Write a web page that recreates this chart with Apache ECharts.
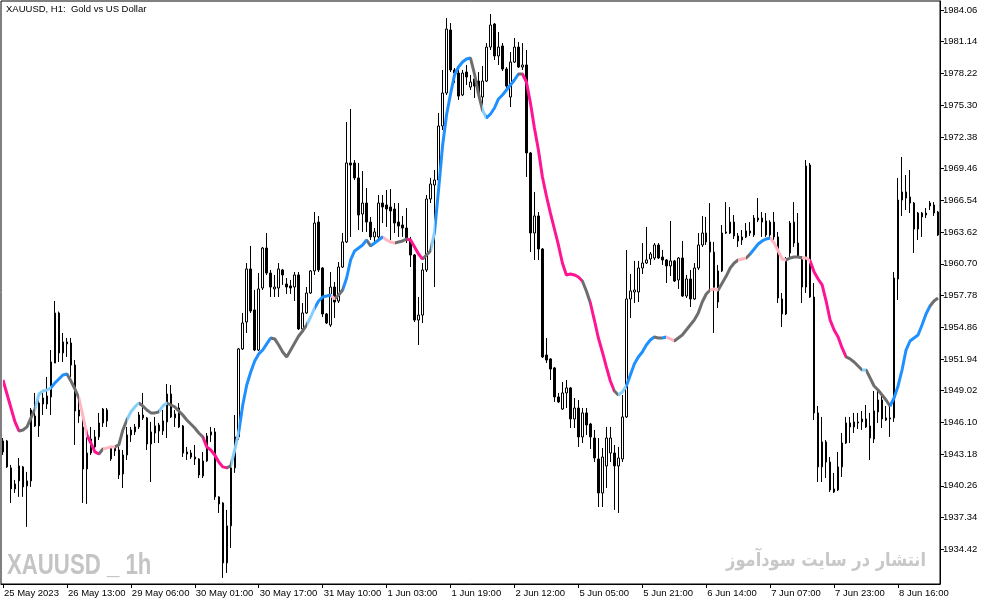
<!DOCTYPE html>
<html>
<head>
<meta charset="utf-8">
<script src="https://cdn.jsdelivr.net/npm/echarts@6/dist/echarts.min.js"></script>
<style>
html,body{margin:0;padding:0;background:#fff;}
#chart{width:994px;height:605px;}
</style>
</head>
<body>
<div id="chart"></div>
<script>
// XAUUSD H1 bars: [open, close, low, high]
const ohlc = [
[1944.39,1943.38,1943.10,1944.66],[1944.39,1942.00,1941.91,1944.48],[1941.91,1939.97,1938.68,1942.18],[1939.97,1940.43,1939.60,1940.80],[1940.71,1942.09,1939.24,1942.82],
[1942.00,1940.16,1939.24,1942.09],[1940.25,1940.71,1936.48,1941.54],[1940.71,1947.24,1940.16,1947.42],[1946.69,1945.77,1945.68,1948.81],[1945.77,1947.88,1944.76,1948.62],
[1948.34,1947.79,1946.78,1949.08],[1947.79,1948.53,1947.33,1950.28],[1948.44,1951.66,1946.78,1952.76],[1951.56,1956.17,1951.56,1957.27],[1956.17,1952.49,1951.66,1956.30],
[1952.49,1953.50,1951.66,1954.33],[1953.50,1953.32,1952.12,1953.87],[1953.41,1951.38,1950.28,1953.87],[1951.38,1947.15,1944.02,1951.84],[1947.24,1946.69,1946.05,1948.44],
[1945.68,1941.81,1938.68,1947.24],[1941.81,1943.28,1938.59,1945.58],[1943.28,1944.57,1943.10,1945.68],[1943.84,1944.76,1943.28,1945.40],[1944.76,1946.05,1944.48,1946.97],
[1946.05,1947.33,1945.68,1947.42],[1947.24,1946.23,1945.68,1947.42],[1942.73,1943.84,1942.55,1943.93],[1943.74,1943.47,1943.01,1943.93],[1943.56,1941.26,1940.89,1943.84],
[1941.35,1943.10,1940.06,1943.56],[1943.10,1944.94,1942.64,1945.68],[1944.94,1945.40,1944.30,1945.68],[1945.22,1945.68,1944.94,1945.95],[1945.68,1946.78,1945.49,1947.06],
[1946.78,1946.51,1946.32,1948.81],[1946.51,1944.11,1943.56,1946.60],[1944.11,1945.22,1940.61,1946.14],[1945.12,1945.77,1944.20,1946.60],[1945.86,1945.31,1944.20,1946.05],
[1945.31,1946.23,1944.94,1947.24],[1946.14,1948.71,1944.66,1949.63],[1948.71,1946.60,1946.50,1949.54],[1946.51,1946.87,1945.68,1947.24],[1947.42,1945.68,1945.58,1947.88],
[1945.77,1943.28,1942.91,1945.86],[1943.38,1943.19,1942.64,1943.84],[1943.28,1942.91,1942.73,1943.56],[1942.91,1942.73,1942.18,1944.02],[1942.73,1941.26,1940.98,1942.80],
[1941.17,1942.55,1940.98,1943.38],[1942.55,1944.85,1942.46,1945.12],[1944.94,1945.22,1944.30,1945.68],[1945.22,1939.24,1938.96,1945.58],[1939.24,1938.59,1937.76,1939.30],
[1938.68,1933.16,1931.78,1938.75],[1933.16,1936.57,1932.24,1938.04],[1936.57,1941.91,1934.54,1942.00],[1941.91,1944.76,1941.45,1946.78],[1944.76,1952.86,1944.48,1952.95],
[1952.86,1955.25,1952.76,1956.17],[1955.34,1960.22,1954.33,1960.77],[1960.22,1956.35,1956.17,1962.34],[1956.45,1952.76,1952.66,1958.29],[1952.76,1958.38,1952.66,1959.85],
[1958.47,1962.15,1958.29,1962.25],[1962.15,1959.85,1959.67,1963.53],[1959.85,1958.56,1957.64,1960.13],[1958.38,1958.56,1957.64,1959.67],[1958.47,1960.22,1957.64,1960.77],
[1960.13,1959.67,1958.75,1960.22],[1958.84,1958.56,1957.92,1959.39],[1958.66,1958.47,1957.92,1959.21],[1958.56,1959.67,1957.27,1959.94],[1959.67,1954.70,1954.60,1959.94],
[1954.70,1956.17,1954.60,1957.09],[1956.17,1958.01,1956.08,1958.56],[1958.01,1960.04,1957.92,1960.13],[1960.04,1964.45,1959.67,1965.47],[1964.54,1960.13,1959.94,1965.10],
[1960.31,1956.08,1955.80,1960.40],[1956.08,1955.25,1955.15,1956.17],[1955.06,1958.56,1954.88,1959.94],[1958.56,1957.18,1955.71,1959.02],[1957.27,1960.40,1957.09,1960.86],
[1960.40,1962.71,1960.31,1963.53],[1962.71,1969.98,1962.61,1973.75],[1969.98,1969.79,1963.17,1974.95],[1969.98,1968.60,1968.41,1970.25],[1968.60,1965.19,1963.81,1969.98],
[1965.28,1966.29,1963.63,1969.24],[1966.29,1964.54,1963.63,1967.67],[1964.54,1963.17,1962.89,1965.01],[1963.17,1963.63,1962.61,1963.99],[1963.17,1966.29,1962.89,1967.03],
[1966.29,1965.93,1964.45,1967.03],[1966.11,1965.74,1964.09,1967.49],[1965.93,1965.56,1962.89,1967.58],[1965.74,1964.45,1963.53,1966.29],[1964.54,1964.17,1963.17,1966.29],
[1964.27,1963.99,1963.17,1965.10],[1963.99,1962.89,1962.61,1965.83],[1962.89,1961.51,1960.40,1963.17],[1961.51,1955.52,1955.34,1961.60],[1955.52,1955.98,1953.22,1957.64],
[1955.98,1960.13,1955.25,1960.77],[1960.13,1966.66,1959.94,1967.03],[1966.66,1968.04,1966.29,1968.60],[1967.95,1968.41,1958.56,1969.33],[1968.41,1973.38,1968.14,1974.58],
[1973.38,1976.42,1973.01,1978.54],[1976.42,1982.31,1976.24,1983.32],[1982.22,1978.54,1978.35,1982.86],[1978.54,1978.26,1977.34,1978.72],[1978.26,1976.14,1975.78,1978.72],
[1976.24,1978.26,1976.14,1978.54],[1978.35,1977.89,1977.16,1979.00],[1976.97,1977.43,1976.70,1978.08],[1977.71,1977.06,1975.96,1977.89],[1977.52,1976.42,1976.05,1978.35],
[1976.05,1977.52,1975.13,1978.91],[1977.52,1980.65,1977.43,1981.02],[1980.65,1982.68,1980.38,1983.69],[1982.77,1979.83,1979.46,1982.86],[1979.83,1980.65,1979.00,1982.03],
[1980.75,1978.63,1978.45,1981.02],[1978.63,1977.06,1976.70,1978.81],[1976.05,1979.27,1975.13,1980.19],[1979.27,1980.65,1979.18,1981.48],[1980.65,1978.81,1978.72,1981.11],
[1978.81,1979.00,1978.54,1981.02],[1979.00,1970.90,1968.69,1980.38],[1970.90,1963.53,1961.78,1970.99],[1963.53,1965.10,1961.05,1967.31],[1965.10,1962.06,1961.05,1965.47],
[1962.06,1952.12,1952.03,1962.15],[1952.30,1951.84,1951.57,1953.87],[1951.94,1951.01,1950.00,1952.00],[1951.11,1948.44,1947.98,1951.20],[1948.44,1947.98,1947.88,1948.81],
[1947.33,1948.81,1947.24,1949.82],[1948.81,1949.27,1947.42,1950.00],[1949.27,1946.41,1945.58,1949.35],[1946.41,1947.42,1945.58,1948.34],[1947.42,1944.76,1943.84,1948.16],
[1944.76,1946.97,1944.20,1947.42],[1946.97,1945.86,1944.94,1947.42],[1945.95,1944.76,1943.65,1946.05],[1944.66,1942.82,1942.45,1945.40],[1942.73,1939.60,1938.31,1944.66],
[1939.60,1942.91,1938.31,1943.74],[1942.09,1944.66,1940.06,1945.68],[1943.28,1944.66,1942.45,1945.68],[1943.28,1942.09,1938.04,1944.02],[1942.09,1942.82,1937.76,1943.84],
[1942.73,1946.60,1942.45,1948.62],[1946.60,1957.46,1946.51,1961.97],[1957.46,1958.20,1955.71,1959.76],[1958.10,1958.29,1957.09,1960.96],[1958.10,1960.31,1957.18,1960.96],
[1960.31,1960.77,1959.76,1962.61],[1960.77,1961.05,1960.68,1964.09],[1961.14,1961.60,1960.59,1961.78],[1961.23,1962.43,1961.05,1962.61],[1962.43,1961.23,1961.14,1962.61],
[1961.32,1961.05,1960.59,1961.97],[1961.05,1960.50,1958.93,1961.14],[1960.50,1960.96,1959.57,1964.64],[1960.96,1959.11,1959.02,1961.05],[1959.21,1961.23,1958.38,1961.32],
[1961.23,1957.73,1957.64,1962.80],[1957.73,1959.30,1957.55,1959.67],[1959.30,1957.46,1956.72,1960.13],[1957.46,1960.31,1957.37,1960.77],[1960.31,1962.43,1960.13,1963.53],
[1962.43,1963.53,1962.25,1965.10],[1963.53,1962.71,1962.43,1965.01],[1962.71,1961.78,1958.10,1966.29],[1961.78,1958.29,1954.33,1962.71],[1957.18,1960.04,1956.63,1960.59],
[1960.04,1963.53,1959.94,1964.27],[1963.53,1963.63,1963.44,1966.38],[1963.53,1964.54,1963.44,1965.93],[1964.54,1963.26,1962.98,1965.19],[1963.26,1962.80,1962.25,1963.53],
[1963.17,1962.89,1962.43,1963.81],[1963.17,1963.72,1963.07,1964.45],[1963.53,1963.72,1963.26,1964.54],[1963.35,1964.91,1963.17,1965.19],[1964.73,1964.91,1964.54,1966.75],
[1964.91,1964.54,1963.17,1965.47],[1964.64,1963.35,1963.17,1965.37],[1963.35,1964.54,1963.17,1964.71],[1964.54,1963.17,1962.89,1965.47],[1963.17,1957.55,1957.09,1963.63],
[1957.46,1956.08,1954.88,1958.01],[1956.08,1961.14,1955.98,1961.32],[1961.69,1964.45,1961.32,1964.64],[1964.54,1962.61,1962.25,1966.38],[1962.61,1961.32,1961.23,1965.37],
[1961.32,1958.56,1957.09,1961.40],[1958.56,1969.70,1958.01,1970.25],[1969.79,1957.64,1957.55,1969.98],[1957.64,1946.97,1946.32,1958.93],[1946.97,1942.00,1940.61,1947.61],
[1942.00,1944.30,1940.61,1946.60],[1944.30,1942.45,1940.98,1944.48],[1942.45,1939.88,1939.69,1942.91],[1939.97,1939.69,1939.60,1941.44],[1939.88,1942.00,1939.78,1943.38],
[1942.00,1944.20,1941.07,1945.12],[1944.20,1946.05,1944.11,1946.60],[1946.05,1945.68,1944.20,1946.60],[1945.68,1946.14,1945.12,1946.97],[1946.05,1946.14,1945.49,1946.97],
[1946.14,1946.41,1945.40,1947.15],[1946.41,1945.68,1945.58,1947.70],[1945.77,1944.66,1942.64,1946.97],[1944.57,1947.15,1944.20,1948.99],[1947.06,1948.16,1946.05,1948.99],
[1948.16,1946.41,1945.58,1948.81],[1946.51,1946.32,1946.23,1947.61],[1946.41,1946.51,1944.76,1947.70],[1946.51,1959.39,1946.14,1959.94],[1959.30,1966.57,1957.37,1968.60],
[1966.57,1967.31,1965.10,1970.53],[1967.31,1966.75,1965.65,1968.87],[1966.85,1966.29,1965.37,1969.33],[1966.29,1963.90,1961.69,1966.38],[1963.90,1965.37,1962.89,1965.47],
[1965.37,1965.01,1963.17,1965.47],[1965.19,1965.37,1964.91,1965.83],[1966.02,1966.29,1965.65,1966.48],[1966.11,1965.37,1965.10,1966.38],[1965.47,1963.35,1963.26,1965.56]
];

// Coloured moving average (one value per bar)
const maValues = [
1950.00,1948.71,1947.42,1946.14,1945.31,1945.40,1945.68,1946.51,1947.33,1948.71,
1948.99,1949.08,1949.27,1949.73,1950.09,1950.46,1950.55,1949.91,1949.17,1948.34,
1946.69,1944.94,1944.20,1943.38,1943.19,1943.65,1943.74,1943.84,1943.84,1944.02,
1945.40,1946.32,1947.06,1947.52,1947.88,1947.61,1947.24,1946.97,1946.97,1947.06,
1947.61,1947.88,1947.70,1947.52,1947.15,1946.78,1946.32,1945.95,1945.58,1945.12,
1944.76,1943.84,1943.56,1943.10,1942.45,1942.00,1941.91,1942.09,1943.56,1945.22,
1947.70,1949.54,1950.74,1951.75,1952.40,1952.76,1953.32,1953.87,1953.78,1953.22,
1952.58,1952.12,1952.76,1953.41,1954.05,1954.51,1955.06,1955.80,1956.63,1957.27,
1957.64,1957.73,1957.83,1957.46,1957.83,1958.29,1959.39,1961.05,1961.88,1962.15,
1962.43,1962.89,1962.34,1962.61,1962.89,1963.17,1962.89,1962.71,1962.61,1962.71,
1962.80,1962.98,1962.89,1962.25,1961.60,1961.14,1961.51,1961.88,1963.63,1967.49,
1971.54,1974.39,1976.33,1978.08,1978.81,1979.27,1979.55,1979.64,1978.17,1976.33,
1974.85,1974.12,1974.49,1975.04,1975.87,1976.24,1976.70,1977.16,1977.62,1978.17,
1978.17,1977.43,1975.50,1973.20,1971.17,1968.69,1966.94,1965.37,1963.90,1962.43,
1960.77,1959.67,1959.76,1959.67,1959.48,1959.11,1958.19,1957.09,1955.52,1953.87,
1952.58,1951.20,1949.91,1948.99,1948.62,1948.90,1949.45,1950.46,1951.47,1952.12,
1952.58,1953.22,1953.68,1953.96,1953.87,1953.87,1953.96,1953.78,1953.59,1953.87,
1954.14,1954.60,1955.06,1955.52,1956.17,1957.18,1957.92,1958.29,1958.38,1958.29,
1958.93,1959.57,1960.31,1960.77,1961.05,1961.14,1961.23,1961.60,1962.06,1962.52,
1962.80,1962.98,1963.07,1962.61,1961.88,1961.14,1961.05,1961.23,1961.32,1961.32,
1961.23,1961.23,1960.96,1959.94,1959.30,1958.75,1957.27,1955.52,1954.60,1953.96,
1952.95,1952.12,1951.94,1951.66,1951.29,1950.92,1950.92,1950.19,1949.45,1949.08,
1948.62,1948.16,1947.61,1948.34,1949.45,1950.92,1952.76,1953.59,1953.87,1954.14,
1955.06,1956.08,1956.81,1957.27,1957.55
];

// Trend state of the average, starting at each bar index
const maTrendRuns = [
[0,'down'],[4,'flat'],[8,'upWeak'],[12,'up'],[16,'flat'],[19,'downWeak'],[21,'down'],[24,'flat'],
[25,'downWeak'],[28,'flat'],[31,'upWeak'],[34,'flat'],[39,'upWeak'],[41,'flat'],[50,'down'],[56,'flat'],
[57,'upWeak'],[59,'up'],[67,'flat'],[76,'upWeak'],[78,'up'],[82,'downWeak'],[83,'flat'],[85,'up'],
[91,'flat'],[92,'up'],[95,'downWeak'],[98,'flat'],[101,'down'],[105,'flat'],[107,'upWeak'],[108,'up'],
[117,'flat'],[120,'upWeak'],[121,'up'],[129,'flat'],[130,'down'],[145,'flat'],[147,'down'],[153,'flat'],
[154,'upWeak'],[156,'up'],[163,'flat'],[165,'up'],[166,'downWeak'],[168,'flat'],[177,'downWeak'],[179,'flat'],
[184,'downWeak'],[186,'flat'],[187,'up'],[192,'downWeak'],[196,'flat'],[200,'downWeak'],[202,'down'],[211,'flat'],
[215,'upWeak'],[216,'flat'],[222,'up'],[232,'flat']
];

const timeTickLabels = ['25 May 2023','26 May 13:00','29 May 06:00','30 May 01:00','30 May 17:00','31 May 10:00',
'1 Jun 03:00','1 Jun 19:00','2 Jun 12:00','5 Jun 05:00','5 Jun 21:00','6 Jun 14:00','7 Jun 07:00','7 Jun 23:00','8 Jun 16:00'];
const tickEvery = 16;

const priceTicks = [1934.42,1937.34,1940.26,1943.18,1946.10,1949.02,1951.94,1954.86,1957.78,
1960.70,1963.62,1966.54,1969.46,1972.38,1975.30,1978.22,1981.14,1984.06];

const categories = ohlc.map((_, i) => String(i));

const trendColors = {
  up: '#1E90FF', upWeak: '#87CEFA', flat: '#6E6E6E', downWeak: '#FFB6C1', down: '#FF1493'
};

const pieces = maTrendRuns.map((r, k) => {
  const p = { gte: r[0], color: trendColors[r[1]] };
  if (k + 1 < maTrendRuns.length) p.lt = maTrendRuns[k + 1][0]; else p.lte = maValues.length;
  return p;
});

const chart = echarts.init(document.getElementById('chart'), null, { renderer: 'canvas' });
const font = 'Liberation Sans';
chart.setOption({
  animation: false,
  backgroundColor: '#ffffff',
  grid: { left: 1, right: 54, top: 1, bottom: 21, show: true, borderColor: '#000', borderWidth: 1, backgroundColor: 'transparent' },
  xAxis: {
    type: 'category',
    data: categories,
    boundaryGap: true,
    axisLine: { show: true, lineStyle: { color: '#000', width: 1 } },
    axisTick: { show: true, alignWithLabel: true, interval: (i) => i % tickEvery === 0, length: 4, lineStyle: { color: '#000' } },
    axisLabel: {
      interval: (i) => i % tickEvery === 0,
      formatter: (v, i) => timeTickLabels[Math.round(i / tickEvery)] || '',
      align: 'left', margin: 4, color: '#000', fontFamily: font, fontSize: 9.5,
      padding: [0, 0, 0, 1], hideOverlap: false
    },
    splitLine: { show: false }
  },
  yAxis: {
    type: 'value', position: 'right', min: 1931.22, max: 1984.89,
    axisLine: { show: true, lineStyle: { color: '#000' } },
    axisTick: { show: true, customValues: priceTicks, length: 4, lineStyle: { color: '#000' } },
    axisLabel: { customValues: priceTicks, formatter: (v) => v.toFixed(2), margin: 3, color: '#000', fontFamily: font, fontSize: 9.5 },
    splitLine: { show: false }
  },
  visualMap: {
    type: 'piecewise', show: false, dimension: 0, seriesIndex: 1, pieces: pieces
  },
  graphic: [
    { type: 'text', left: 6, top: 4, style: { text: 'XAUUSD, H1:  Gold vs US Dollar', font: '9.5px Liberation Sans', fill: '#000' } },
    { type: 'text', x: 7, y: 551, scaleX: 0.74, z: -1, style: { text: 'XAUUSD _ 1h', font: 'bold 30px Liberation Sans', fill: '#c4c4c4', verticalAlign: 'top' } },
    { type: 'text', x: 926, y: 552, scaleX: 0.855, z: -1, style: { text: 'انتشار در سایت سودآموز', font: 'bold 19px DejaVu Sans', fill: '#c8c8c8', align: 'right', verticalAlign: 'top' } }
  ],
  series: [
    {
      type: 'candlestick',
      data: ohlc,
      barWidth: 2,
      itemStyle: { color: '#ffffff', color0: '#000000', borderColor: '#000000', borderColor0: '#000000', borderWidth: 1 },
      z: 2
    },
    {
      type: 'line',
      data: maValues,
      symbol: 'none',
      smooth: false,
      lineStyle: { width: 3 },
      z: 3
    }
  ]
});
</script>
</body>
</html>
